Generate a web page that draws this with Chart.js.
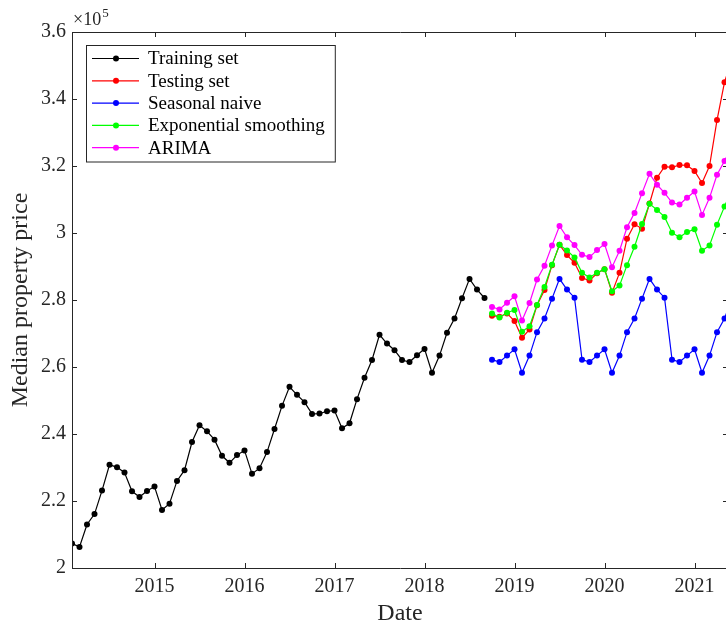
<!DOCTYPE html>
<html>
<head>
<meta charset="utf-8">
<script src="https://cdn.jsdelivr.net/npm/chart.js@4.4.1/dist/chart.umd.min.js"></script>
<style>
  html, body { margin: 0; padding: 0; background: #fff; }
  #wrap { width: 726px; height: 629px; overflow: hidden; position: relative; }
  canvas { display: block; }
</style>
</head>
<body>
<div id="wrap"><canvas id="priceChart" width="760" height="629"></canvas></div>
<script>
// Monthly series start in Feb 2014, forecasts start in Oct 2018 (month 56)
const firstYear = 2014;
const firstMonth = 2;
const testStart = 56;
const xAxisMax = 2021.372;

const yearTicks = [2015, 2016, 2017, 2018, 2019, 2020, 2021];
const priceTicks = [200000, 220000, 240000, 260000, 280000, 300000, 320000, 340000, 360000];

const trainingSet = [
  207300, 206300, 213000, 216100, 223100, 230800, 230100, 228500, 222900, 221200, 223000, 224300,
  217300, 219200, 226000, 229200, 237600, 242600, 240800, 238300, 233500, 231400, 233700, 235100,
  228100, 229800, 234600, 241500, 248400, 254100, 251700, 249500, 246000, 246100, 246800, 247000,
  241700, 243200, 250400, 256800, 262100, 269600, 267000, 265000, 262100, 261500, 263500, 265400,
  258300, 263400, 270200, 274500, 280500, 286300, 283100, 280600
];
const testingSet = [
  275300, 275000, 276000, 273700, 268700, 271200, 278400, 283000, 290400, 296500, 293400, 291100,
  286600, 285800, 288000, 289200, 282200, 288100, 298300, 302600, 301300, 308800, 316500, 319800,
  319600, 320300, 320200, 318500, 314900, 320000, 333700, 345000, 352000
];
const seasonalNaive = [
  262200, 261500, 263400, 265300, 258300, 263400, 270400, 274500, 280400, 286300, 283100, 280700,
  262200, 261500, 263400, 265300, 258300, 263400, 270400, 274500, 280400, 286300, 283100, 280700,
  262200, 261500, 263400, 265300, 258300, 263400, 270400, 274500, 280400
];
const expSmoothing = [
  276000, 274800, 276200, 277000, 270500, 272200, 278500, 283900, 290500, 296500, 294800, 292700,
  288100, 286700, 288100, 289200, 282600, 284300, 290400, 295900, 302700, 308700, 306900, 304800,
  300100, 298700, 300300, 301100, 294700, 296300, 302500, 307900, 313000
];
const arima = [
  277900, 277200, 279200, 281100, 273900, 279100, 286100, 290200, 296300, 302100, 298700, 296400,
  293500, 292800, 294900, 296700, 289800, 294700, 301700, 306000, 311900, 317700, 314400, 312000,
  309100, 308500, 310500, 312400, 305400, 310500, 317400, 321500, 326000
];

function monthToYear(i) {
  return firstYear + (firstMonth - 1 + i) / 12;
}

function toPoints(values, offset) {
  return values.map((v, i) => ({ x: monthToYear(offset + i), y: v }));
}

Chart.defaults.font.family = '"Liberation Serif", "Times New Roman", serif';
Chart.defaults.color = '#262626';

function series(label, values, offset, color, order) {
  return {
    label: label,
    data: toPoints(values, offset),
    borderColor: color,
    backgroundColor: color,
    borderWidth: 1.2,
    pointRadius: 3,
    pointBorderWidth: 0,
    pointBackgroundColor: color,
    tension: 0,
    order: order
  };
}

// Box, inward ticks, exponent label and legend drawn like the MATLAB figure
const matlabFrame = {
  id: 'matlabFrame',
  afterDraw(chart) {
    const { ctx, chartArea: a, scales: { x, y } } = chart;
    const tick = 5;
    ctx.save();
    ctx.strokeStyle = '#262626';
    ctx.lineWidth = 1;
    ctx.beginPath();
    ctx.rect(a.left + 0.5, a.top + 0.5, a.right - a.left, a.bottom - a.top);
    x.ticks.forEach(t => {
      const px = Math.round(x.getPixelForValue(t.value)) + 0.5;
      ctx.moveTo(px, a.bottom); ctx.lineTo(px, a.bottom - tick);
      ctx.moveTo(px, a.top); ctx.lineTo(px, a.top + tick);
    });
    y.ticks.forEach(t => {
      const py = Math.round(y.getPixelForValue(t.value)) + 0.5;
      ctx.moveTo(a.left, py); ctx.lineTo(a.left + tick, py);
      ctx.moveTo(a.right, py); ctx.lineTo(a.right - tick, py);
    });
    ctx.stroke();

    // x10^5 multiplier
    ctx.fillStyle = '#262626';
    ctx.textBaseline = 'alphabetic';
    ctx.textAlign = 'left';
    ctx.font = '18px "Liberation Serif"';
    ctx.fillText('\u00d710', a.left + 1, 25);
    const w = ctx.measureText('\u00d710').width;
    ctx.font = '13px "Liberation Serif"';
    ctx.fillText('5', a.left + 2 + w, 17);

    // legend
    const items = chart.data.datasets;
    ctx.font = '19px "Liberation Serif"';
    let maxW = 0;
    items.forEach(d => { maxW = Math.max(maxW, ctx.measureText(d.label).width); });
    const bx = a.left + 14, by = a.top + 13;
    const rowH = 22.3;
    const bw = 62 + maxW + 10, bh = rowH * items.length + 5;
    ctx.fillStyle = '#fff';
    ctx.fillRect(bx, by, bw, bh);
    ctx.strokeStyle = '#262626';
    ctx.strokeRect(bx + 0.5, by + 0.5, bw, bh);
    ctx.textBaseline = 'middle';
    items.forEach((d, i) => {
      const cy = by + 13.5 + i * rowH;
      ctx.strokeStyle = d.borderColor;
      ctx.lineWidth = 1.2;
      ctx.beginPath();
      ctx.moveTo(bx + 6, cy); ctx.lineTo(bx + 53, cy);
      ctx.stroke();
      ctx.fillStyle = d.borderColor;
      ctx.beginPath();
      ctx.arc(bx + 30, cy, 3, 0, Math.PI * 2);
      ctx.fill();
      ctx.fillStyle = '#000';
      ctx.fillText(d.label, bx + 62, cy + 1);
    });
    ctx.restore();
  }
};

const ctx = document.getElementById('priceChart').getContext('2d');
const chart = new Chart(ctx, {
  type: 'line',
  data: {
    datasets: [
      series('Training set', trainingSet, 0, '#000000', 4),
      series('Testing set', testingSet, testStart, '#ff0000', 3),
      series('Seasonal naive', seasonalNaive, testStart, '#0000ff', 2),
      series('Exponential smoothing', expSmoothing, testStart, '#00ff00', 1),
      series('ARIMA', arima, testStart, '#ff00ff', 0)
    ]
  },
  options: {
    responsive: false,
    animation: false,
    devicePixelRatio: 1,
    layout: { padding: { left: 0, top: 32, right: 32, bottom: 0 } },
    plugins: {
      legend: { display: false },
      tooltip: { enabled: false }
    },
    scales: {
      x: {
        type: 'linear',
        min: monthToYear(0),
        max: xAxisMax,
        grid: { display: false, drawTicks: false },
        border: { display: false },
        afterBuildTicks: (s) => { s.ticks = yearTicks.map(v => ({ value: v })); },
        afterFit: (s) => { s.height = 61; },
        ticks: {
          padding: 7,
          maxRotation: 0,
          autoSkip: false,
          font: { size: 20 },
          callback: (v) => String(v)
        },
        title: {
          display: true,
          text: 'Date',
          font: { size: 24 },
          padding: { top: 0, bottom: 1 }
        }
      },
      y: {
        min: 200000,
        max: 360000,
        grid: { display: false, drawTicks: false },
        border: { display: false },
        afterBuildTicks: (s) => { s.ticks = priceTicks.map(v => ({ value: v })); },
        afterFit: (s) => { s.width = 72; },
        ticks: {
          padding: 6,
          font: { size: 20 },
          callback: (v) => String(v / 100000)
        },
        title: {
          display: true,
          text: 'Median property price',
          font: { size: 24 },
          padding: { top: 6, bottom: 0 }
        }
      }
    }
  },
  plugins: [matlabFrame]
});
</script>
</body>
</html>
